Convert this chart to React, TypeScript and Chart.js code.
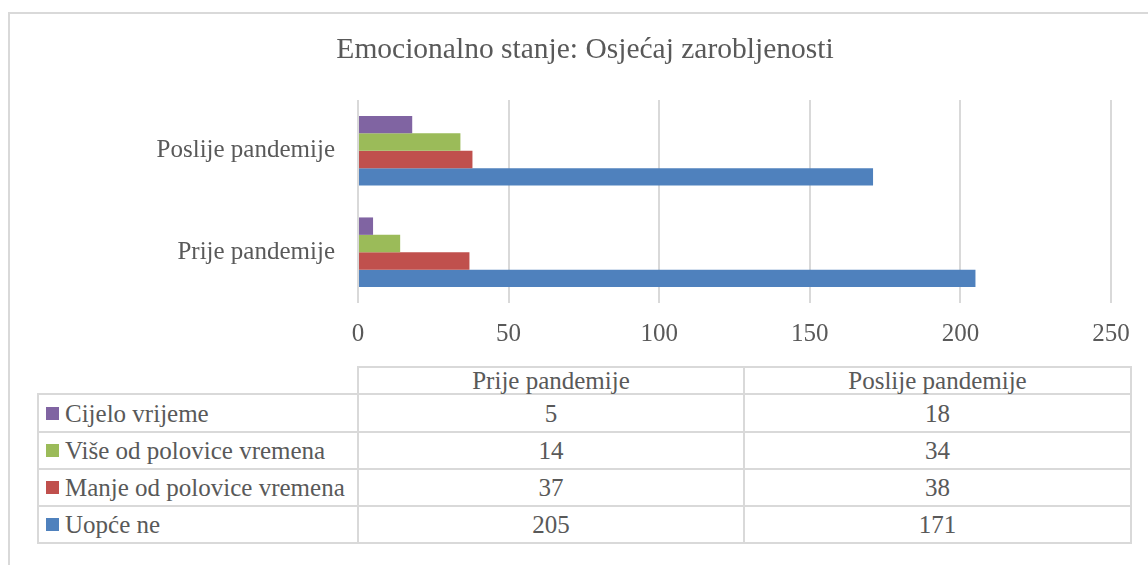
import React, { useEffect, useRef } from "react";
import { Chart, registerables } from "chart.js";

Chart.register(...registerables);

const chartTitle = "Emocionalno stanje: Osjećaj zarobljenosti";
const categories = ["Prije pandemije", "Poslije pandemije"];
const seriesNames = [
  "Cijelo vrijeme",
  "Više od polovice vremena",
  "Manje od polovice vremena",
  "Uopće ne",
];
const cijeloVrijeme = [5, 18];
const viseOdPolovice = [14, 34];
const manjeOdPolovice = [37, 38];
const uopceNe = [205, 171];
const seriesColors = ["#8064A2", "#9BBB59", "#C0504D", "#4F81BD"];
const xTickValues = [0, 50, 100, 150, 200, 250];

const seriesValues = [cijeloVrijeme, viseOdPolovice, manjeOdPolovice, uopceNe];

const FONT = "'Liberation Serif', 'Times New Roman', serif";
const TEXT = "#595959";
const LINE = "#D9D9D9";

function App() {
  const ref = useRef<HTMLCanvasElement | null>(null);

  useEffect(() => {
    if (!ref.current) return;
    // chart shows categories from top: Poslije, Prije
    const order = categories.map((_, i) => categories.length - 1 - i);
    const chart = new Chart(ref.current, {
      type: "bar",
      data: {
        labels: order.map((i) => categories[i]),
        datasets: seriesNames.map((name, s) => ({
          label: name,
          data: order.map((i) => seriesValues[s][i]),
          backgroundColor: seriesColors[s],
          borderWidth: 0,
          barPercentage: 1,
          categoryPercentage: 0.686,
        })),
      },
      options: {
        indexAxis: "y",
        responsive: false,
        animation: false,
        layout: { padding: { left: 0, right: 37, top: 100, bottom: 0 } },
        plugins: {
          legend: { display: false },
          tooltip: { enabled: false },
          title: { display: false },
        },
        scales: {
          x: {
            min: 0,
            max: 250,
            afterBuildTicks: (scale: any) => {
              scale.ticks = xTickValues.map((v) => ({ value: v }));
            },
            afterFit: (scale: any) => {
              scale.height = 57;
            },
            grid: { color: LINE, lineWidth: 2, drawTicks: false },
            border: { display: false },
            ticks: {
              color: TEXT,
              padding: 16,
              font: { family: FONT, size: 25 },
            },
          },
          y: {
            afterFit: (scale: any) => {
              scale.width = 358;
            },
            grid: { display: false, drawTicks: false },
            border: { display: false },
            ticks: {
              color: TEXT,
              padding: 23,
              font: { family: FONT, size: 25 },
            },
          },
        },
      },
    });
    return () => chart.destroy();
  }, []);

  // table geometry
  const colX = [38, 358, 744, 1131];
  const headerTop = 367;
  const rowY = [394, 432, 469, 506, 543];
  const lines: React.ReactNode[] = [];
  const hLine = (y: number, x1: number, x2: number, k: string) =>
    lines.push(
      <div
        key={k}
        style={{ position: "absolute", left: x1 - 1, top: y - 1, width: x2 - x1 + 2, height: 2, background: LINE }}
      />
    );
  const vLine = (x: number, y1: number, y2: number, k: string) =>
    lines.push(
      <div
        key={k}
        style={{ position: "absolute", left: x - 1, top: y1 - 1, width: 2, height: y2 - y1 + 2, background: LINE }}
      />
    );
  hLine(headerTop, colX[1], colX[3], "ht");
  rowY.forEach((y, i) => hLine(y, colX[0], colX[3], "h" + i));
  vLine(colX[0], rowY[0], rowY[4], "v0");
  vLine(colX[1], headerTop, rowY[4], "v1");
  vLine(colX[2], headerTop, rowY[4], "v2");
  vLine(colX[3], headerTop, rowY[4], "v3");

  const cellText: React.CSSProperties = {
    position: "absolute",
    display: "flex",
    alignItems: "center",
    fontFamily: FONT,
    fontSize: 25,
    color: TEXT,
    whiteSpace: "nowrap",
    lineHeight: 1,
  };

  return (
    <div
      style={{
        position: "absolute",
        left: 0,
        top: 0,
        width: 1148,
        height: 565,
        background: "#ffffff",
        overflow: "hidden",
      }}
    >
      <div
        style={{
          position: "absolute",
          left: 8,
          top: 12,
          width: 1160,
          height: 580,
          borderLeft: `2px solid ${LINE}`,
          borderTop: `2px solid ${LINE}`,
        }}
      />
      <canvas
        ref={ref}
        width={1148}
        height={360}
        style={{ position: "absolute", left: 0, top: 0, width: 1148, height: 360 }}
      />
      <div
        style={{
          position: "absolute",
          left: 0,
          top: 34,
          width: 1170,
          textAlign: "center",
          fontFamily: FONT,
          fontSize: 29.5,
          lineHeight: "29.5px",
          color: TEXT,
          whiteSpace: "nowrap",
        }}
      >
        {chartTitle}
      </div>
      {lines}
      {categories.map((c, i) => (
        <div
          key={"hd" + i}
          style={{
            ...cellText,
            left: colX[i + 1],
            top: headerTop,
            width: colX[i + 2] - colX[i + 1],
            height: rowY[0] - headerTop,
            justifyContent: "center",
          }}
        >
          {c}
        </div>
      ))}
      {seriesNames.map((name, r) => (
        <React.Fragment key={"r" + r}>
          <div
            style={{
              ...cellText,
              left: colX[0] + 8,
              top: rowY[r],
              height: rowY[r + 1] - rowY[r],
              width: colX[1] - colX[0] - 8,
            }}
          >
            <span
              style={{
                display: "inline-block",
                width: 13,
                height: 13,
                background: seriesColors[r],
                marginRight: 6,
              }}
            />
            {name}
          </div>
          {categories.map((_, c) => (
            <div
              key={"v" + r + c}
              style={{
                ...cellText,
                left: colX[c + 1],
                top: rowY[r],
                width: colX[c + 2] - colX[c + 1],
                height: rowY[r + 1] - rowY[r],
                justifyContent: "center",
              }}
            >
              {String(seriesValues[r][c])}
            </div>
          ))}
        </React.Fragment>
      ))}
    </div>
  );
}

export default App;
